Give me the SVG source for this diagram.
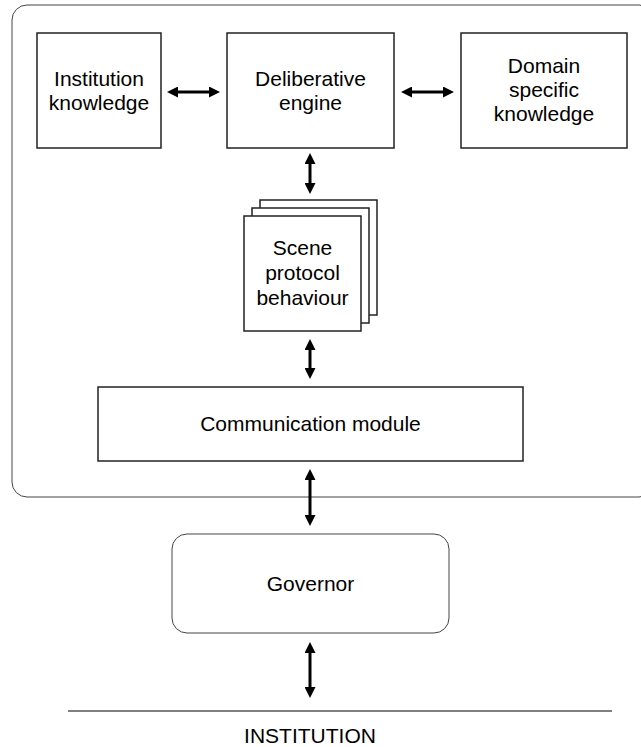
<svg xmlns="http://www.w3.org/2000/svg" width="641" height="747" viewBox="0 0 641 747">
<style>
.box{fill:#fff;stroke:#222;stroke-width:1.5}
.soft{fill:#fff;stroke:#444;stroke-width:1}
.lbl{font-family:"Liberation Sans",Arial,sans-serif;font-size:21px;fill:#000;text-anchor:middle}
.arr{stroke:#000;stroke-width:3;fill:none;marker-start:url(#ah);marker-end:url(#ah)}
</style>
<defs>
<marker id="ah" viewBox="0 0 11 11" refX="2" refY="5.5" markerWidth="11" markerHeight="11" markerUnits="userSpaceOnUse" orient="auto-start-reverse">
<path d="M0,0 L11,5.5 L0,11 z" fill="#000"/>
</marker>
</defs>
<rect width="641" height="747" fill="#fff"/>
<g id="agent-boundary">
<rect class="soft" x="12" y="5" width="642" height="492" rx="15" ry="15"/>
</g>
<g id="institution-knowledge">
<rect class="box" x="37" y="33" width="124" height="115"/>
<text class="lbl" x="99" y="86">Institution</text>
<text class="lbl" x="99" y="110">knowledge</text>
</g>
<g id="deliberative-engine">
<rect class="box" x="227" y="33" width="167" height="115"/>
<text class="lbl" x="310.5" y="86">Deliberative</text>
<text class="lbl" x="310.5" y="110">engine</text>
</g>
<g id="domain-knowledge">
<rect class="box" x="461" y="33" width="166" height="115"/>
<text class="lbl" x="544" y="73">Domain</text>
<text class="lbl" x="544" y="97">specific</text>
<text class="lbl" x="544" y="121">knowledge</text>
</g>
<g id="scene-protocol">
<rect class="box" x="260" y="200" width="117" height="115"/>
<rect class="box" x="252" y="208" width="117" height="115"/>
<rect class="box" x="244" y="216" width="117" height="115"/>
<text class="lbl" x="302.5" y="255">Scene</text>
<text class="lbl" x="302.5" y="280">protocol</text>
<text class="lbl" x="302.5" y="305">behaviour</text>
</g>
<g id="communication-module">
<rect class="box" x="98" y="387" width="425" height="74"/>
<text class="lbl" x="310.5" y="431">Communication module</text>
</g>
<g id="governor">
<rect class="soft" x="172" y="534" width="277" height="99" rx="15" ry="15"/>
<text class="lbl" x="310.5" y="591">Governor</text>
</g>
<g id="institution">
<line x1="68" y1="711" x2="612" y2="711" stroke="#555" stroke-width="1.5"/>
<text class="lbl" x="310" y="743">INSTITUTION</text>
</g>
<g id="connectors">
<line class="arr" x1="176" y1="92" x2="211" y2="92"/>
<line class="arr" x1="410" y1="92" x2="445" y2="92"/>
<line class="arr" x1="310" y1="162" x2="310" y2="185"/>
<line class="arr" x1="310" y1="348" x2="310" y2="370"/>
<line class="arr" x1="310" y1="478" x2="310" y2="517"/>
<line class="arr" x1="310" y1="651" x2="310" y2="689"/>
</g>
</svg>
